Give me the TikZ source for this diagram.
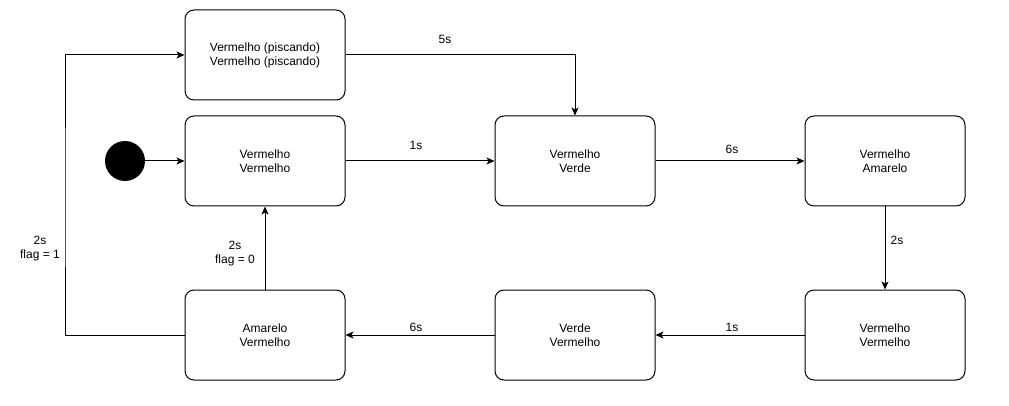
\documentclass[tikz,border=0pt]{standalone}
\usepackage{fontspec}
\setmainfont{Liberation Sans}
\usetikzlibrary{arrows.meta}
\begin{document}
\begin{tikzpicture}[x=1pt,y=-1pt,
  estado/.style={draw, line width=1pt, rounded corners=9pt, minimum width=160pt,
    minimum height=90pt, align=center, font=\fontsize{12}{14}\selectfont},
  rotulo/.style={align=center, font=\fontsize{12}{14}\selectfont, inner sep=0pt},
  seta/.style={line width=1pt, -{Stealth[length=8pt,width=7pt,inset=2pt]}}]
  \useasboundingbox (0,0) rectangle (1009,406);

  %% estados
  \node[estado] (pisca) at (265,55) {Vermelho (piscando)\\Vermelho (piscando)};
  \node[estado] (vv1) at (265,161) {Vermelho\\Vermelho};
  \node[estado] (vverde) at (575,161) {Vermelho\\Verde};
  \node[estado] (vamar) at (885,161) {Vermelho\\Amarelo};
  \node[estado] (amv) at (265,335) {Amarelo\\Vermelho};
  \node[estado] (verdev) at (575,335) {Verde\\Vermelho};
  \node[estado] (vv2) at (885,335) {Vermelho\\Vermelho};

  %% inicio
  \node[circle, fill=black, minimum size=40pt, inner sep=0pt] (ini) at (125,161) {};
  \coordinate (volta) at (65,200);

  %% transicoes
  \draw[seta] (ini) -- (vv1);
  \draw[seta] (vv1) -- (vverde);
  \draw[seta] (vverde) -- (vamar);
  \draw[seta] (vamar) -- (vv2);
  \draw[seta] (vv2) -- (verdev);
  \draw[seta] (verdev) -- (amv);
  \draw[seta] (amv) -- (vv1);
  \draw[seta] (amv.west) -| (volta) |- (pisca.west);
  \draw[seta] (pisca.east) -| (vverde.north);

  %% tempos
  \node[rotulo] (t5) at (445,39) {5s};
  \node[rotulo] (t1a) at (416,145) {1s};
  \node[rotulo] (t6a) at (732,149) {6s};
  \node[rotulo] (t2) at (897,240) {2s};
  \node[rotulo] (t1b) at (732,327) {1s};
  \node[rotulo] (t6b) at (416,327) {6s};
  \node[rotulo] (f0) at (235,254) {2s\\flag = 0};
  \node[rotulo] (f1) at (40,249) {2s\\flag = 1};
\end{tikzpicture}
\end{document}
